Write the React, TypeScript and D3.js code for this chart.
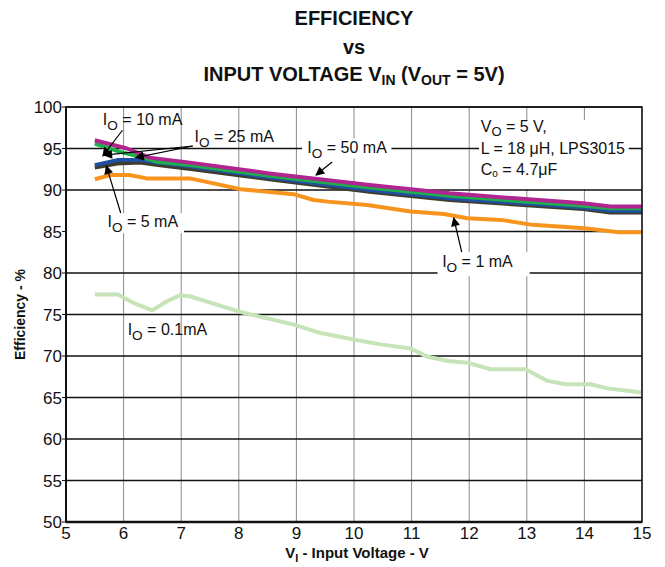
import React from 'react';
import * as d3 from 'd3';

// series: input voltage (V) and efficiency (%)
const VIN_01 = [5.5, 5.9, 6.2, 6.5, 6.75, 6.98, 7.15, 7.56, 8.03, 9.0, 9.4, 10.06, 10.46, 10.98, 11.28, 11.63, 11.97, 12.37, 12.98, 13.36, 13.68, 14.11, 14.4, 15];
const EFF_01 = [77.4, 77.4, 76.3, 75.5, 76.6, 77.3, 77.2, 76.3, 75.3, 73.7, 72.8, 71.9, 71.4, 70.9, 69.9, 69.4, 69.2, 68.4, 68.4, 67.0, 66.6, 66.6, 66.1, 65.6];

const VIN_1 = [5.5, 5.77, 6.1, 6.4, 7.15, 7.56, 8.03, 8.95, 9.3, 9.54, 10.23, 10.98, 11.56, 11.97, 12.55, 13.1, 14.0, 14.6, 15];
const EFF_1 = [91.3, 91.8, 91.8, 91.4, 91.4, 90.8, 90.1, 89.5, 88.8, 88.6, 88.2, 87.4, 87.1, 86.6, 86.4, 85.8, 85.4, 84.9, 84.9];

const VIN_5 = [5.5, 5.89, 6.29, 6.6, 7.2, 8.53, 10.27, 11.66, 13.98, 14.45, 15];
const EFF_5 = [92.7, 93.2, 93.3, 93.0, 92.5, 91.3, 89.8, 88.8, 87.7, 87.3, 87.3];

const VIN_25 = [5.5, 5.89, 6.29, 6.6, 7.2, 8.53, 10.27, 11.66, 13.98, 14.45, 15];
const EFF_25 = [93.0, 93.6, 93.6, 93.3, 92.8, 91.5, 90.0, 89.0, 87.9, 87.5, 87.5];

const VIN_10 = [5.5, 5.94, 6.29, 6.58, 7.15, 8.53, 10.27, 11.66, 13.98, 14.45, 15];
const EFF_10 = [95.6, 94.6, 94.0, 93.4, 93.0, 91.7, 90.3, 89.3, 88.1, 87.8, 87.8];

const VIN_50 = [5.5, 6.06, 6.45, 7.15, 8.53, 9.4, 10.27, 11.66, 12.8, 13.98, 14.45, 15];
const EFF_50 = [96.0, 95.0, 93.9, 93.3, 92.0, 91.3, 90.6, 89.6, 89.0, 88.4, 88.0, 88.0];

const X_TICKS = [5, 6, 7, 8, 9, 10, 11, 12, 13, 14, 15];
const Y_TICKS = [50, 55, 60, 65, 70, 75, 80, 85, 90, 95, 100];

const SERIES = [
  { vin: VIN_01, eff: EFF_01, color: '#c6e4b8' },
  { vin: VIN_1, eff: EFF_1, color: '#f7941d' },
  { vin: VIN_5, eff: EFF_5, color: '#3f3c2a' },
  { vin: VIN_25, eff: EFF_25, color: '#1f4fa3' },
  { vin: VIN_10, eff: EFF_10, color: '#1fae4b' },
  { vin: VIN_50, eff: EFF_50, color: '#b0258f' },
];

const FONT = 'Arial, "Liberation Sans", Helvetica, sans-serif';

const W = 665;
const H = 567;
const M = { left: 66, right: 23, top: 107, bottom: 45 };

const App: React.FC = () => {
  const x = d3.scaleLinear().domain([5, 15]).range([M.left, W - M.right]);
  const y = d3.scaleLinear().domain([50, 100]).range([H - M.bottom, M.top]);
  const line = d3.line<[number, number]>().x(d => x(d[0])).y(d => y(d[1]));

  // label with subscript O
  const io = (vx: number, vy: number, rest: string, size = 16) => (
    <text x={x(vx)} y={y(vy)} fontSize={size} fontFamily={FONT} fill="#111">
      I<tspan fontSize={size * 0.85} dy={5}>O</tspan>
      <tspan dy={-5}>{rest}</tspan>
    </text>
  );

  const arrow = (x1: number, y1: number, x2: number, y2: number) => (
    <line x1={x(x1)} y1={y(y1)} x2={x(x2)} y2={y(y2)} stroke="#000" strokeWidth={1.2} markerEnd="url(#ah)" />
  );

  const whiteBox = (v1: number, e1: number, v2: number, e2: number) => (
    <rect x={x(v1)} y={y(e1)} width={x(v2) - x(v1)} height={y(e2) - y(e1)} fill="#fff" />
  );

  return (
    <svg width={W} height={H} style={{ display: 'block', position: 'absolute', left: 0, top: 0 }}>
      <defs>
        <marker id="ah" viewBox="0 0 10 10" refX={9} refY={5} markerWidth={12} markerHeight={9} markerUnits="userSpaceOnUse" orient="auto">
          <path d="M0,0 L10,5 L0,10 z" fill="#000" />
        </marker>
      </defs>
      <rect width={W} height={H} fill="#fff" />

      {/* title */}
      <g fontFamily={FONT} fontWeight="bold" fontSize={20} textAnchor="middle" fill="#111">
        <text x={354} y={25}>EFFICIENCY</text>
        <text x={354} y={54}>vs</text>
        <text x={354} y={81}>
          INPUT VOLTAGE V<tspan fontSize={14} dy={4}>IN</tspan>
          <tspan dy={-4}> (V</tspan>
          <tspan fontSize={14} dy={4}>OUT</tspan>
          <tspan dy={-4}> = 5V)</tspan>
        </text>
      </g>

      {/* grid */}
      {X_TICKS.map(t => (
        <line key={'gx' + t} x1={x(t)} x2={x(t)} y1={y(50)} y2={y(100)} stroke="#8a8a8a" strokeWidth={1} />
      ))}
      {Y_TICKS.map(t => (
        <line key={'gy' + t} x1={x(5)} x2={x(15)} y1={y(t)} y2={y(t)} stroke="#111" strokeWidth={1.4} />
      ))}

      {/* boxes hiding grid behind labels */}
      {whiteBox(12.17, 98.43, 14.77, 90.12)}
      {whiteBox(9.1, 96.2, 10.65, 93.8)}
      {whiteBox(5.0, 87.2, 7.05, 84.8)}
      {whiteBox(11.45, 82.5, 13.05, 79.6)}

      {/* curves */}
      {SERIES.map((s, i) => (
        <path
          key={i}
          d={line(s.vin.map((v, j) => [v, s.eff[j]] as [number, number])) || ''}
          fill="none"
          stroke={s.color}
          strokeWidth={4}
          strokeLinejoin="round"
        />
      ))}

      {/* frame */}
      <rect x={x(5)} y={y(100)} width={x(15) - x(5)} height={y(50) - y(100)} fill="none" stroke="#111" strokeWidth={1.5} />
      <line x1={x(5)} x2={x(5)} y1={y(100)} y2={y(50)} stroke="#111" strokeWidth={2} />
      <line x1={x(5)} x2={x(15)} y1={y(50)} y2={y(50)} stroke="#111" strokeWidth={2.5} />
      {Y_TICKS.map(t => (
        <line key={'ty' + t} x1={x(5) - 4} x2={x(5)} y1={y(t)} y2={y(t)} stroke="#111" strokeWidth={1} />
      ))}

      {/* tick labels */}
      <g fontFamily={FONT} fontSize={17} fill="#111">
        {Y_TICKS.map(t => (
          <text key={'ly' + t} x={x(5) - 4} y={y(t) + 6} textAnchor="end">{t}</text>
        ))}
        {X_TICKS.map(t => (
          <text key={'lx' + t} x={x(t)} y={y(50) + 17} textAnchor="middle">{t}</text>
        ))}
      </g>

      {/* axis titles */}
      <text x={357} y={558} fontFamily={FONT} fontWeight="bold" fontSize={15} textAnchor="middle" fill="#111">
        V<tspan fontSize={11} dy={4}>I</tspan>
        <tspan dy={-4}> - Input Voltage - V</tspan>
      </text>
      <text
        transform={`translate(25,${y(75)}) rotate(-90)`}
        fontFamily={FONT}
        fontWeight="bold"
        fontSize={14}
        textAnchor="middle"
        fill="#111"
      >
        Efficiency - %
      </text>

      {/* annotations */}
      {io(5.64, 97.83, ' = 10 mA')}
      {arrow(5.98, 97.2, 5.64, 94.1)}
      {io(7.23, 95.78, ' = 25 mA')}
      {arrow(7.2, 95.3, 6.21, 93.9)}
      {arrow(7.2, 95.3, 5.66, 94.2)}
      {io(9.19, 94.46, ' = 50 mA')}
      {arrow(9.62, 93.37, 9.34, 91.8)}
      {io(5.72, 85.54, ' = 5 mA')}
      {arrow(5.95, 87.23, 5.7, 92.9)}
      {io(11.53, 80.72, ' = 1 mA')}
      {arrow(11.87, 82.53, 11.73, 86.63)}
      {io(6.07, 72.53, ' = 0.1mA')}

      {/* conditions */}
      <g fontFamily={FONT} fontSize={16} fill="#111">
        <text x={x(12.2)} y={y(97.0)}>
          V<tspan fontSize={13} dy={4}>O</tspan>
          <tspan dy={-4}> = 5 V,</tspan>
        </text>
        <text x={x(12.2)} y={y(94.3)}>L = 18 μH, LPS3015</text>
        <text x={x(12.2)} y={y(91.8)}>
          C<tspan fontSize={10} dy={2}>o</tspan>
          <tspan dy={-2}> = 4.7μF</tspan>
        </text>
      </g>
    </svg>
  );
};

export default App;
